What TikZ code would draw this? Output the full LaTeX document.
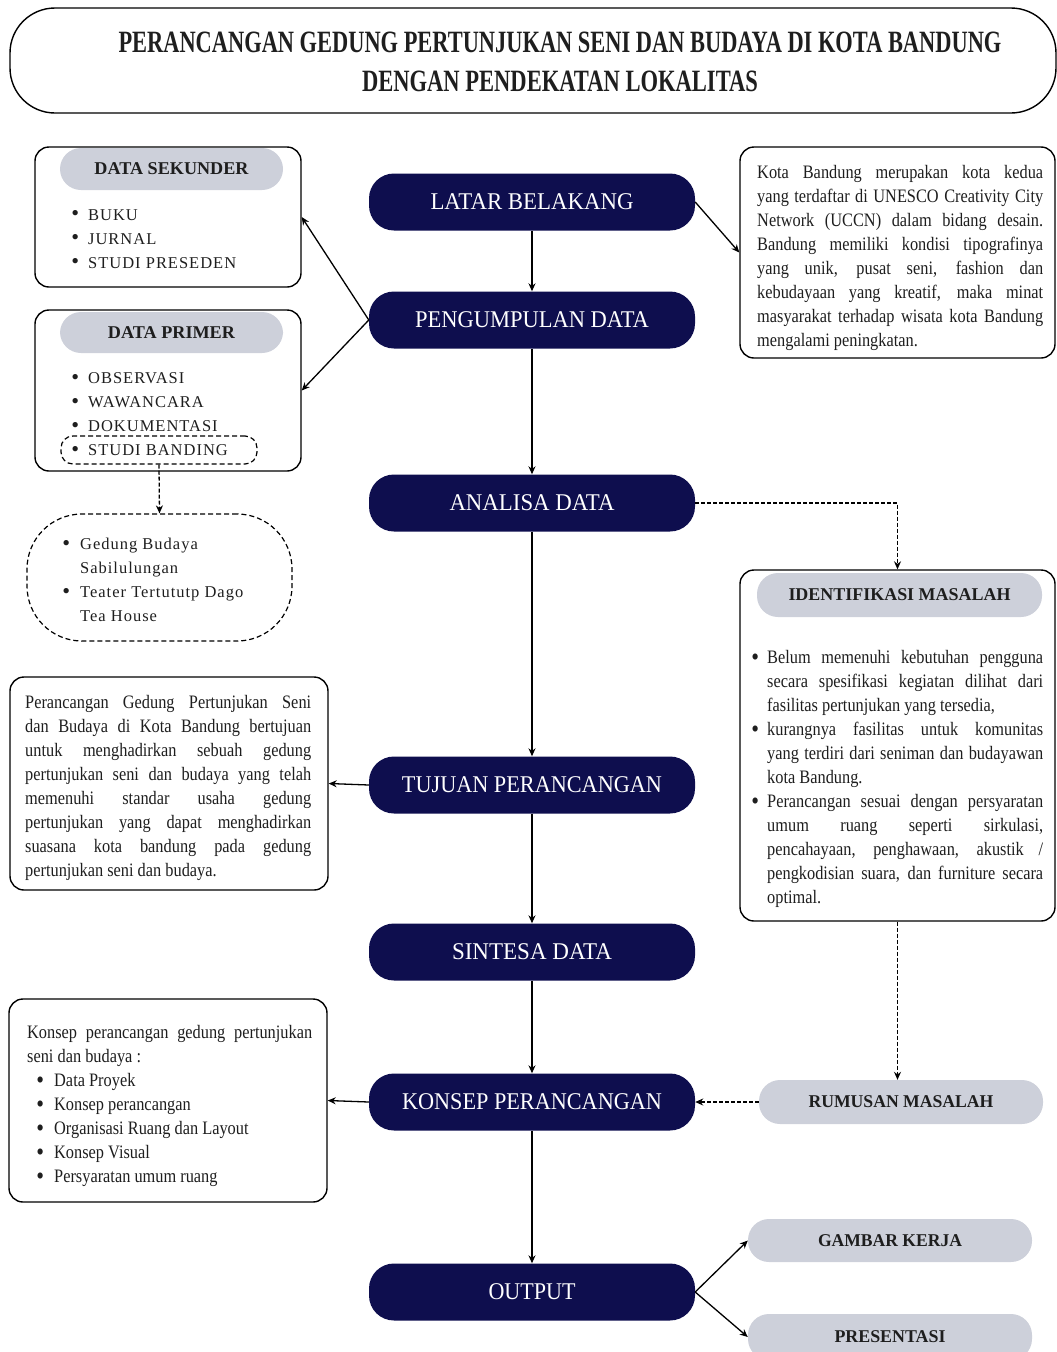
\documentclass[tikz,border=0pt]{standalone}
\usepackage{fontspec}
\usepackage{graphicx}
\setmainfont{Liberation Serif}
\newfontfamily\nar[FakeStretch=0.86]{Liberation Serif}
\newfontfamily\spc[LetterSpace=6]{Liberation Serif}
\usetikzlibrary{arrows.meta}
\definecolor{navy}{RGB}{14,14,78}
\definecolor{pill}{RGB}{205,208,218}
\definecolor{ink}{RGB}{30,30,30}
\newcommand\fitw[2]{\resizebox{#1pt}{\height}{#2}}
\newcommand\jl[2]{\makebox[#1pt][s]{#2}}
\newcommand\bul[1]{\llap{\raisebox{-0.06em}{\scalebox{1.35}{\textbullet}}\hspace{#1pt}}}
\begin{document}
\begin{tikzpicture}[x=1pt,y=-1pt,
  mainbox/.style={fill=navy, rounded corners=25pt, minimum width=326pt, minimum height=57pt, inner sep=0pt, text=white, font=\fontsize{24}{28}\selectfont},
  pillbox/.style={fill=pill, rounded corners=21pt, inner sep=0pt, text=ink, font=\bfseries\fontsize{18}{22}\selectfont},
  frame/.style={draw=black, line width=1.4pt, rounded corners=14pt, inner sep=0pt},
  dframe/.style={draw=black, line width=1.2pt, dash pattern=on 5pt off 3pt, inner sep=0pt},
  body/.style={anchor=north west, inner sep=0pt, align=left, text=ink, font=\nar\fontsize{19}{24}\selectfont},
  lst/.style={anchor=north west, inner sep=0pt, align=left, text=ink, font=\spc\fontsize{16.5}{24}\selectfont},
  arr/.style={-{Stealth[length=8pt,width=7pt]}, line width=1.3pt},
  darr/.style={arr, dash pattern=on 4pt off 2pt}]
\useasboundingbox (0,0) rectangle (1057,1352);

% title
\node[frame, rounded corners=45pt, minimum width=1046pt, minimum height=105pt] (title) at (533,60.5) {};
\node[inner sep=0pt, align=center, text=ink, font=\bfseries\fontsize{31}{39}\selectfont] (titletext) at (560,61.5)
  {\fitw{883}{PERANCANGAN GEDUNG PERTUNJUKAN SENI DAN BUDAYA DI KOTA BANDUNG}\\
   \fitw{396}{DENGAN PENDEKATAN LOKALITAS}};

% central flow
\node[mainbox] (latar) at (532,202) {\fitw{203}{LATAR BELAKANG}};
\node[mainbox] (peng) at (532,320) {\fitw{234}{PENGUMPULAN DATA}};
\node[mainbox] (analisa) at (532,503) {\fitw{165}{ANALISA DATA}};
\node[mainbox] (tujuan) at (532,785) {\fitw{260}{TUJUAN PERANCANGAN}};
\node[mainbox] (sintesa) at (532,952) {\fitw{160}{SINTESA DATA}};
\node[mainbox] (konsep) at (532,1102) {\fitw{260}{KONSEP PERANCANGAN}};
\node[mainbox] (output) at (532,1292) {\fitw{87}{OUTPUT}};

% data sekunder
\node[frame, minimum width=266pt, minimum height=140pt] (sekunder) at (168,217) {};
\node[pillbox, minimum width=223pt, minimum height=42pt] (sekhead) at (171.5,169) {\fitw{154}{DATA SEKUNDER}};
\node[lst] (seklist) at (88,209) {\bul{9}BUKU\\ \bul{9}JURNAL\\ \bul{9}STUDI PRESEDEN};

% data primer
\node[frame, minimum width=266pt, minimum height=161pt] (primer) at (168,390.5) {};
\node[pillbox, minimum width=223pt, minimum height=41pt] (primhead) at (171.5,332.5) {\fitw{127}{DATA PRIMER}};
\node[lst] (primlist) at (88,372) {\bul{9}OBSERVASI\\ \bul{9}WAWANCARA\\ \bul{9}DOKUMENTASI\\ \bul{9}STUDI BANDING};
\node[dframe, rounded corners=12pt, minimum width=196pt, minimum height=28pt] (banding) at (159,450) {};

% studi banding list
\node[dframe, rounded corners=55pt, minimum width=265pt, minimum height=127pt] (preseden) at (159.5,577.5) {};
\node[lst] (presedenlist) at (80,538) {\bul{10}Gedung Budaya\\ Sabilulungan\\ \bul{10}Teater Tertututp Dago\\ Tea House};

% latar belakang text
\node[frame, minimum width=315pt, minimum height=211pt] (latarbox) at (897.5,252.5) {};
\node[body] (latartext) at (757,165.5) {%
  \jl{286}{Kota Bandung merupakan kota kedua}\\
  \jl{286}{yang terdaftar di UNESCO Creativity City}\\
  \jl{286}{Network (UCCN) dalam bidang desain.}\\
  \jl{286}{Bandung memiliki kondisi tipografinya}\\
  \jl{286}{yang unik, pusat seni, fashion dan}\\
  \jl{286}{kebudayaan yang kreatif, maka minat}\\
  \jl{286}{masyarakat terhadap wisata kota Bandung}\\
  mengalami peningkatan.};

% identifikasi masalah
\node[frame, minimum width=315pt, minimum height=351pt] (ident) at (897.5,745.5) {};
\node[pillbox, minimum width=285pt, minimum height=44pt] (identhead) at (899.5,595) {\fitw{222}{IDENTIFIKASI MASALAH}};
\node[body] (identtext) at (767,650.5) {%
  \bul{8}\jl{276}{Belum memenuhi kebutuhan pengguna}\\
  \jl{276}{secara spesifikasi kegiatan dilihat dari}\\
  fasilitas pertunjukan yang tersedia,\\
  \bul{8}\jl{276}{kurangnya fasilitas untuk komunitas}\\
  \jl{276}{yang terdiri dari seniman dan budayawan}\\
  kota Bandung.\\
  \bul{8}\jl{276}{Perancangan sesuai dengan persyaratan}\\
  \jl{276}{umum ruang seperti sirkulasi,}\\
  \jl{276}{pencahayaan, penghawaan, akustik /}\\
  \jl{276}{pengkodisian suara, dan furniture secara}\\
  optimal.};

% tujuan text
\node[frame, minimum width=318pt, minimum height=213pt] (tujuanbox) at (169,783.5) {};
\node[body] (tujuantext) at (25,695.5) {%
  \jl{286}{Perancangan Gedung Pertunjukan Seni}\\
  \jl{286}{dan Budaya di Kota Bandung bertujuan}\\
  \jl{286}{untuk menghadirkan sebuah gedung}\\
  \jl{286}{pertunjukan seni dan budaya yang telah}\\
  \jl{286}{memenuhi standar usaha gedung}\\
  \jl{286}{pertunjukan yang dapat menghadirkan}\\
  \jl{286}{suasana kota bandung pada gedung}\\
  pertunjukan seni dan budaya.};

% konsep text
\node[frame, minimum width=318pt, minimum height=203pt] (konsepbox) at (168,1100.5) {};
\node[body] (konseptext) at (27,1025.5) {%
  \jl{285}{Konsep perancangan gedung pertunjukan}\\
  seni dan budaya :\\
  \hspace*{27pt}\bul{10}Data Proyek\\
  \hspace*{27pt}\bul{10}Konsep perancangan\\
  \hspace*{27pt}\bul{10}Organisasi Ruang dan Layout\\
  \hspace*{27pt}\bul{10}Konsep Visual\\
  \hspace*{27pt}\bul{10}Persyaratan umum ruang};

% right gray pills
\node[pillbox, minimum width=284pt, minimum height=44pt] (rumusan) at (901,1102) {\fitw{185}{RUMUSAN MASALAH}};
\node[pillbox, minimum width=284pt, minimum height=43pt] (gambar) at (890,1240.5) {\fitw{144}{GAMBAR KERJA}};
\node[pillbox, minimum width=284pt, minimum height=46pt] (presentasi) at (890,1337) {\fitw{111}{PRESENTASI}};

% connectors
\draw[arr] (latar) -- (peng);
\draw[arr] (peng) -- (analisa);
\draw[arr] (analisa) -- (tujuan);
\draw[arr] (tujuan) -- (sintesa);
\draw[arr] (sintesa) -- (konsep);
\draw[arr] (konsep) -- (output);
\draw[arr] (latar.east) -- (latarbox.west);
\draw[arr] (peng.west) -- (sekunder.east);
\draw[arr] (peng.west) -- (primer.east);
\draw[darr] (banding.south) -- (preseden.north);
\draw[darr] (analisa.east) -| (ident.north);
\draw[darr] (ident.south) -- (ident.south |- rumusan.north);
\draw[darr] (rumusan.west) -- (konsep.east);
\draw[arr] (tujuan.west) -- (tujuanbox.east);
\draw[arr] (konsep.west) -- (konsepbox.east);
\draw[arr] (output.east) -- (gambar.west);
\draw[arr] (output.east) -- (presentasi.west);
\end{tikzpicture}
\end{document}
